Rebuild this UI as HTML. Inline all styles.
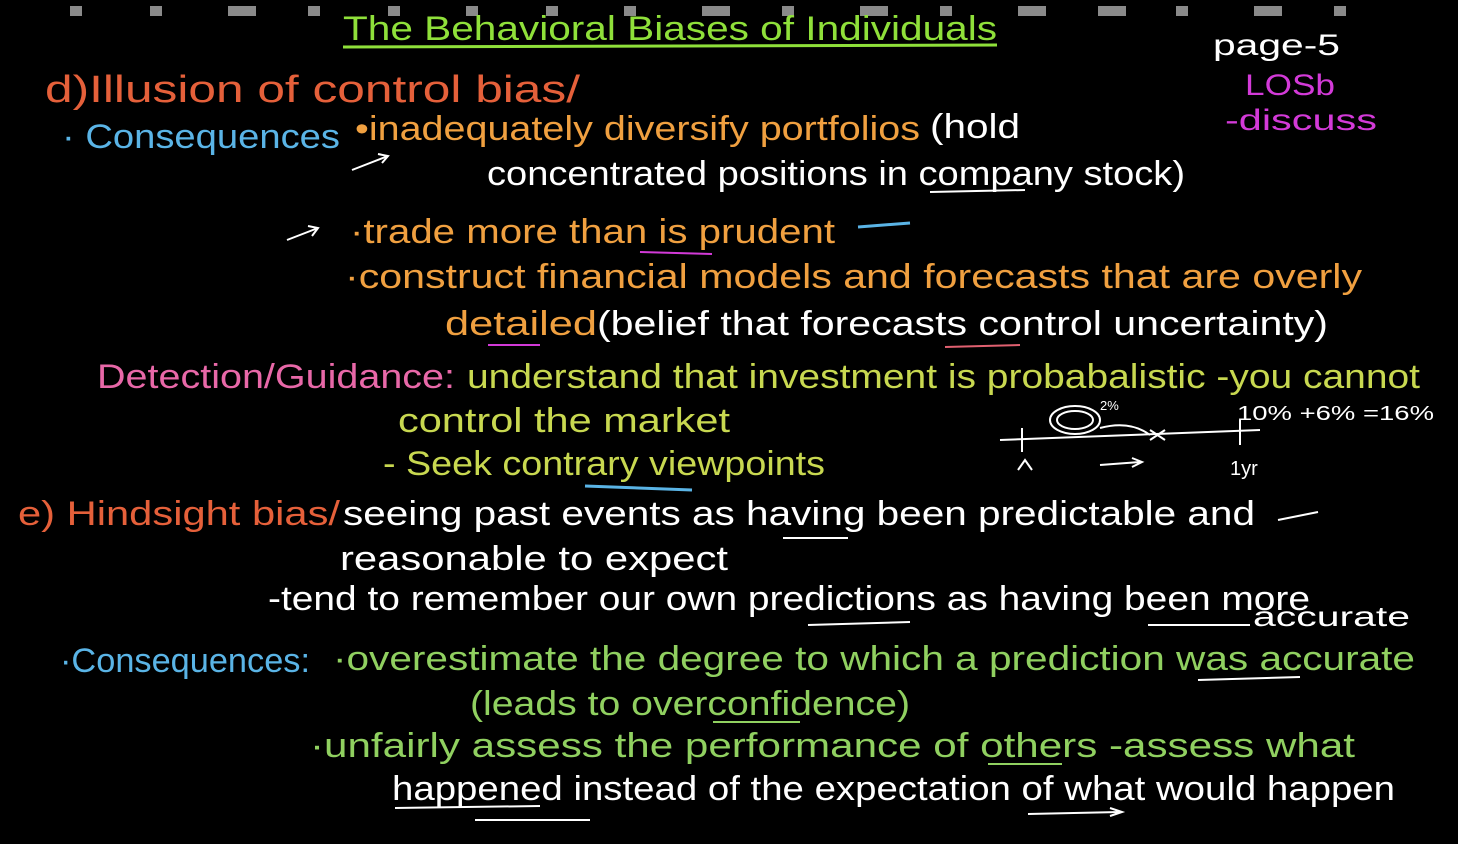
<!DOCTYPE html>
<html><head><meta charset="utf-8"><style>
html,body{margin:0;padding:0;background:#000;width:1458px;height:844px;overflow:hidden}
svg{display:block;font-family:"Liberation Sans",sans-serif;font-size:34px}
</style></head><body>
<svg width="1458" height="844" viewBox="0 0 1458 844" xmlns="http://www.w3.org/2000/svg">
<rect width="1458" height="844" fill="#000"/>
<g fill="#8a8a8a">
<rect x="70" y="6" width="12" height="10"/><rect x="150" y="6" width="12" height="10"/><rect x="228" y="6" width="28" height="10"/><rect x="308" y="6" width="12" height="10"/><rect x="388" y="6" width="12" height="10"/><rect x="466" y="6" width="12" height="10"/><rect x="546" y="6" width="12" height="10"/><rect x="624" y="6" width="12" height="10"/><rect x="702" y="6" width="28" height="10"/><rect x="782" y="6" width="12" height="10"/><rect x="860" y="6" width="28" height="10"/><rect x="940" y="6" width="12" height="10"/><rect x="1018" y="6" width="28" height="10"/><rect x="1098" y="6" width="28" height="10"/><rect x="1176" y="6" width="12" height="10"/><rect x="1254" y="6" width="28" height="10"/><rect x="1334" y="6" width="12" height="10"/>
</g>
<text x="343" y="40" fill="#8fe03a" textLength="654" lengthAdjust="spacingAndGlyphs">The Behavioral Biases of Individuals</text>
<line x1="343" y1="47" x2="997" y2="45" stroke="#8fe03a" stroke-width="3"/>
<text x="1213" y="55" fill="#fff" font-size="30" textLength="127" lengthAdjust="spacingAndGlyphs">page-5</text>
<text x="1245" y="95" fill="#d33ad8" font-size="30" textLength="90" lengthAdjust="spacingAndGlyphs">LOSb</text>
<text x="1225" y="130" fill="#d33ad8" font-size="30" textLength="152" lengthAdjust="spacingAndGlyphs">-discuss</text>

<text x="45" y="102" fill="#e5603a" font-size="38" textLength="535" lengthAdjust="spacingAndGlyphs">d)Illusion of control bias/</text>
<text x="62" y="148" fill="#5ab4e6" textLength="278" lengthAdjust="spacingAndGlyphs">· Consequences</text>
<text x="355" y="140" fill="#f0a040" textLength="565" lengthAdjust="spacingAndGlyphs">•inadequately diversify portfolios</text>
<text x="930" y="138" fill="#fff" textLength="90" lengthAdjust="spacingAndGlyphs">(hold</text>
<text x="487" y="185" fill="#fff" textLength="698" lengthAdjust="spacingAndGlyphs">concentrated positions in company stock)</text>
<line x1="930" y1="192" x2="1025" y2="190" stroke="#fff" stroke-width="2"/>
<path d="M352 170 L388 156 M378 154 L388 156 L382 163" stroke="#fff" stroke-width="2" fill="none"/>
<path d="M287 240 L318 228 M308 226 L318 228 L312 236" stroke="#fff" stroke-width="2" fill="none"/>
<text x="350" y="243" fill="#f0a040" textLength="485" lengthAdjust="spacingAndGlyphs">·trade more than is prudent</text>
<line x1="858" y1="227" x2="910" y2="223" stroke="#5ab4e6" stroke-width="3"/>
<line x1="640" y1="252" x2="712" y2="254" stroke="#d33ad8" stroke-width="2"/>
<text x="345" y="288" fill="#f0a040" textLength="1017" lengthAdjust="spacingAndGlyphs">·construct financial models and forecasts that are overly</text>
<text x="445" y="335" fill="#f0a040" textLength="152" lengthAdjust="spacingAndGlyphs">detailed</text>
<line x1="488" y1="345" x2="540" y2="345" stroke="#d33ad8" stroke-width="2"/>
<text x="597" y="335" fill="#fff" textLength="731" lengthAdjust="spacingAndGlyphs">(belief that forecasts control uncertainty)</text>
<line x1="945" y1="347" x2="1020" y2="345" stroke="#e06070" stroke-width="2"/>

<text x="97" y="388" fill="#e868a8" textLength="358" lengthAdjust="spacingAndGlyphs">Detection/Guidance:</text>
<text x="467" y="388" fill="#c8d850" textLength="953" lengthAdjust="spacingAndGlyphs">understand that investment is probabalistic -you cannot</text>
<text x="398" y="432" fill="#c8d850" textLength="332" lengthAdjust="spacingAndGlyphs">control the market</text>
<text x="383" y="475" fill="#c8d850" textLength="442" lengthAdjust="spacingAndGlyphs">- Seek contrary viewpoints</text>
<line x1="585" y1="486" x2="692" y2="490" stroke="#5ab4e6" stroke-width="3"/>

<g stroke="#fff" stroke-width="2" fill="none">
<line x1="1000" y1="440" x2="1260" y2="430"/>
<line x1="1022" y1="428" x2="1022" y2="452"/>
<line x1="1240" y1="420" x2="1240" y2="445"/>
<ellipse cx="1075" cy="420" rx="25" ry="14"/>
<ellipse cx="1075" cy="420" rx="18" ry="9"/>
<path d="M1100 428 Q1130 420 1150 435"/>
<path d="M1150 430 L1165 440 M1150 440 L1165 430"/>
<path d="M1100 465 L1140 462 M1132 458 L1142 462 L1132 467"/>
<path d="M1018 470 L1025 460 L1032 470"/>
</g>
<text x="1237" y="420" fill="#fff" font-size="20" textLength="197" lengthAdjust="spacingAndGlyphs">10% +6% =16%</text>
<text x="1230" y="475" fill="#fff" font-size="20">1yr</text>
<text x="1100" y="410" fill="#fff" font-size="13">2%</text>

<text x="18" y="525" fill="#e5603a" textLength="322" lengthAdjust="spacingAndGlyphs">e) Hindsight bias/</text>
<text x="343" y="525" fill="#fff" textLength="912" lengthAdjust="spacingAndGlyphs">seeing past events as having been predictable and</text>
<line x1="783" y1="538" x2="848" y2="538" stroke="#fff" stroke-width="2"/>
<path d="M1278 520 L1318 512" stroke="#fff" stroke-width="2"/>
<text x="340" y="570" fill="#fff" textLength="388" lengthAdjust="spacingAndGlyphs">reasonable to expect</text>
<text x="268" y="610" fill="#fff" textLength="1042" lengthAdjust="spacingAndGlyphs">-tend to remember our own predictions as having been more</text>
<text x="1253" y="626" fill="#fff" font-size="28" textLength="157" lengthAdjust="spacingAndGlyphs">accurate</text>
<line x1="808" y1="625" x2="910" y2="622" stroke="#fff" stroke-width="2"/>
<line x1="1148" y1="625" x2="1250" y2="625" stroke="#fff" stroke-width="2"/>

<text x="60" y="672" fill="#5ab4e6" textLength="250" lengthAdjust="spacingAndGlyphs">·Consequences:</text>
<text x="333" y="670" fill="#90d060" textLength="1082" lengthAdjust="spacingAndGlyphs">·overestimate the degree to which a prediction was accurate</text>
<line x1="1198" y1="680" x2="1300" y2="677" stroke="#fff" stroke-width="2"/>
<text x="470" y="715" fill="#90d060" textLength="440" lengthAdjust="spacingAndGlyphs">(leads to overconfidence)</text>
<line x1="713" y1="722" x2="800" y2="722" stroke="#90d060" stroke-width="2"/>
<text x="310" y="757" fill="#90d060" textLength="1045" lengthAdjust="spacingAndGlyphs">·unfairly assess the performance of others -assess what</text>
<line x1="988" y1="764" x2="1062" y2="764" stroke="#90d060" stroke-width="2"/>
<text x="392" y="800" fill="#fff" textLength="1003" lengthAdjust="spacingAndGlyphs">happened instead of the expectation of what would happen</text>
<line x1="395" y1="808" x2="540" y2="806" stroke="#fff" stroke-width="2"/>
<path d="M1028 814 L1120 812 M1110 808 L1122 812 L1110 816" stroke="#fff" stroke-width="2" fill="none"/>
<line x1="475" y1="820" x2="590" y2="820" stroke="#fff" stroke-width="2"/>
</svg>
</body></html>
